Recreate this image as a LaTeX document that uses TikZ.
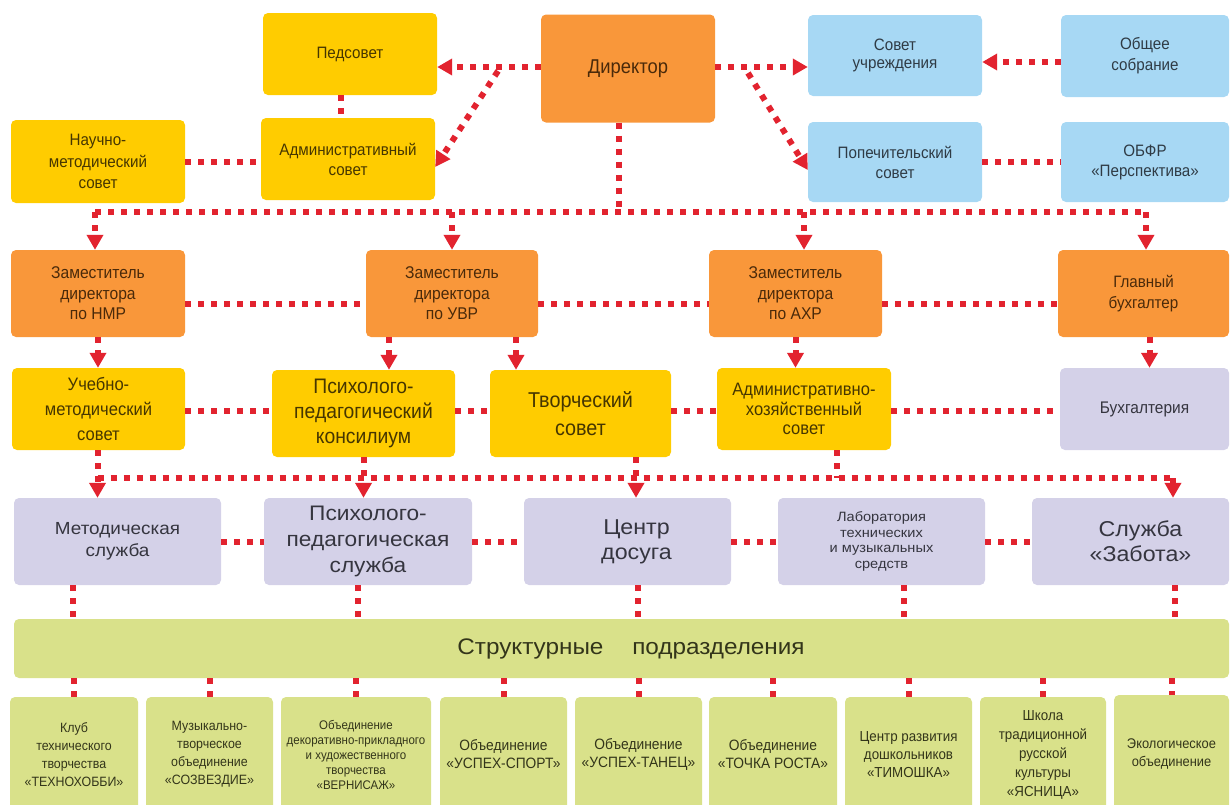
\documentclass[tikz,border=0pt]{standalone}
\usepackage{fontspec}
\setmainfont[FakeStretch=0.92]{Liberation Sans}
\newfontfamily\wf[FakeStretch=1.08]{Liberation Sans}
\usetikzlibrary{arrows.meta}
\definecolor{cy}{HTML}{FFCC00}
\definecolor{co}{HTML}{F9973A}
\definecolor{cb}{HTML}{A7D8F4}
\definecolor{cl}{HTML}{D4D1E8}
\definecolor{cg}{HTML}{D9E18A}
\definecolor{cr}{HTML}{E2232F}
\definecolor{ty}{HTML}{463600}
\definecolor{to}{HTML}{4A2A0A}
\definecolor{tb}{HTML}{2F3B45}
\definecolor{tl}{HTML}{35353F}
\definecolor{tg}{HTML}{33351A}
\begin{document}
\begin{tikzpicture}[x=1pt,y=-1pt,
  bx/.style={rounded corners=5pt, inner sep=1pt, align=center},
  ybox/.style={bx, fill=cy, text=ty},
  obox/.style={bx, fill=co, text=to},
  bluebox/.style={bx, fill=cb, text=tb},
  lbox/.style={bx, fill=cl, text=tl},
  gbox/.style={bx, fill=cg, text=tg},
  wh/.style 2 args={minimum width=#1pt, minimum height=#2pt},
  fs/.style 2 args={font=\fontsize{#1}{#2}\selectfont},
  wfs/.style 2 args={font=\wf\fontsize{#1}{#2}\selectfont},
  dl/.style={draw=cr, line width=6pt, dash pattern=on 6pt off 7pt},
  arr/.style={dl, -{Triangle[length=15pt,width=16pt]}}
]
\useasboundingbox (0,0) rectangle (1230,804);
% Row 1
\node[ybox, wh={174}{82}, fs={16.5}{20}] (ped) at (350,54) {Педсовет};
\node[obox, wh={174}{108}, fs={20}{24}] (dir) at (628,68.5) {Директор};
\node[bluebox, wh={174}{81}, fs={16.5}{18}] (sovu) at (895,55.5) {Совет\\учреждения};
\node[bluebox, wh={168}{82}, fs={16.5}{21}] (obsh) at (1145,56) {Общее\\собрание};
% Row 2
\node[ybox, wh={174}{83}, fs={16.5}{21.5}] (nms) at (98,161.5) {Научно-\\методический\\совет};
\node[ybox, wh={174}{82}, fs={16.5}{20}] (adm) at (348,159) {Административный\\совет};
\node[bluebox, wh={174}{80}, fs={16.5}{20}] (pop) at (895,162) {Попечительский\\совет};
\node[bluebox, wh={168}{80}, fs={16.5}{20}] (obfr) at (1145,162) {ОБФР\\«Перспектива»};
% Row 3
\node[obox, wh={174}{87}, fs={17}{20.5}] (zn) at (98,293.5) {Заместитель\\директора\\по НМР};
\node[obox, wh={172}{87}, fs={17}{20.5}] (zu) at (452,293.5) {Заместитель\\директора\\по УВР};
\node[obox, wh={173}{87}, fs={17}{20.5}] (za) at (795.5,293.5) {Заместитель\\директора\\по АХР};
\node[obox, wh={171}{87}, fs={16.5}{21}] (gb) at (1143.5,293.5) {Главный\\бухгалтер};
% Row 4
\node[ybox, wh={173}{82}, fs={18}{25}] (ums) at (98.5,409) {Учебно-\\методический\\совет};
\node[ybox, wh={183}{87}, fs={21}{25}] (ppk) at (363.5,413.5) {Психолого-\\педагогический\\консилиум};
\node[ybox, wh={181}{87}, fs={21.5}{28}] (tvs) at (580.5,413.5) {Творческий\\совет};
\node[ybox, wh={174}{82}, fs={18}{19.5}] (ahs) at (804,409) {Административно-\\хозяйственный\\совет};
\node[lbox, wh={169}{82}, fs={16.8}{20}] (buh) at (1144.5,409) {Бухгалтерия};
% Row 5
\node[lbox, wh={207}{87}, wfs={17.5}{22.5}] (ms) at (117.5,541.5) {Методическая\\служба};
\node[lbox, wh={208}{87}, wfs={21}{26}] (pps) at (368,541.5) {Психолого-\\педагогическая\\служба};
\node[lbox, wh={207}{87}, wfs={21.5}{25}] (cd) at (627.5,541.5) {\hspace*{18pt}Центр\\\hspace*{18pt}досуга};
\node[lbox, wh={207}{87}, wfs={13.5}{15.5}] (lab) at (881.5,541.5) {Лаборатория\\технических\\и музыкальных\\средств};
\node[lbox, wh={197}{87}, wfs={21.5}{25}] (sz) at (1130.5,541.5) {\hspace*{20pt}Служба\\\hspace*{20pt}«Забота»};
% Band
\node[gbox, wh={1215}{59}, wfs={22.5}{26}] (band) at (621.5,648.5) {\hspace*{19pt}Структурные\hspace{22pt} подразделения};
% Bottom row
\node[gbox, wh={128}{115}, fs={13.5}{18}] (b1) at (74,754.5) {Клуб\\технического\\творчества\\«ТЕХНОХОББИ»};
\node[gbox, wh={127}{115}, fs={13.5}{18}] (b2) at (209.5,754.5) {Музыкально-\\творческое\\объединение\\«СОЗВЕЗДИЕ»};
\node[gbox, wh={150}{115}, fs={12.5}{15}] (b3) at (356,754.5) {Объединение\\декоративно-прикладного\\и художественного\\творчества\\«ВЕРНИСАЖ»};
\node[gbox, wh={127}{115}, fs={15}{18}] (b4) at (503.5,754.5) {Объединение\\«УСПЕХ-СПОРТ»};
\node[gbox, wh={127}{115}, fs={15}{18}] (b5) at (638.5,754.5) {Объединение\\«УСПЕХ-ТАНЕЦ»};
\node[gbox, wh={128}{115}, fs={15}{18}] (b6) at (773,754.5) {Объединение\\«ТОЧКА РОСТА»};
\node[gbox, wh={127}{115}, fs={14.5}{18}] (b7) at (908.5,754.5) {Центр развития\\дошкольников\\«ТИМОШКА»};
\node[gbox, wh={126}{115}, fs={14.5}{19}] (b8) at (1043,754.5) {Школа\\традиционной\\русской\\культуры\\«ЯСНИЦА»};
\node[gbox, wh={115}{117}, fs={14}{18}] (b9) at (1171.5,753.5) {Экологическое\\объединение};
% Coordinates
\coordinate (hl) at (0,212);
\coordinate (r4) at (0,411);
\coordinate (r45) at (0,478);
\coordinate (d1) at (498,71);
\coordinate (d2) at (748,73);
% Row 1-2 connectors
\draw[arr] ([yshift=1.5pt]dir.west) -- ([yshift=1.5pt]dir.west -| ped.east);
\draw[arr] ([yshift=1.5pt]dir.east) -- ([yshift=1.5pt]dir.east -| sovu.west);
\draw[arr] ([yshift=-6pt]obsh.west) -- ([yshift=-6pt]obsh.west -| sovu.east);
\draw[arr] (d1) -- ([yshift=-8pt]adm.east);
\draw[arr] (d2) -- ([yshift=-8pt]pop.west);
\draw[dl] ([xshift=-9pt]ped.south) -- ([xshift=-9pt]ped.south |- adm.north);
\draw[dl] (nms.east) -- (nms.east -| adm.west);
\draw[dl] (pop.east) -- (obfr.west);
% Director to deputies
\draw[dl] ([xshift=-9pt]dir.south) -- ([xshift=-9pt]dir.south |- hl);
\draw[dl] ([xshift=-3pt]zn.north |- hl) -- ([xshift=2.5pt]gb.north |- hl);
\draw[arr] ([xshift=-3pt]zn.north |- hl) -- ([xshift=-3pt]zn.north);
\draw[arr] (zu.north |- hl) -- (zu.north);
\draw[arr] ([xshift=8.5pt]za.north |- hl) -- ([xshift=8.5pt]za.north);
\draw[arr] ([xshift=2.5pt]gb.north |- hl) -- ([xshift=2.5pt]gb.north);
% Row 3 links
\draw[dl] ([yshift=-10pt]zn.east) -- ([yshift=-10pt]zn.east -| zu.west);
\draw[dl] ([yshift=-10pt]zu.east) -- ([yshift=-10pt]zu.east -| za.west);
\draw[dl] ([yshift=-10pt]za.east) -- ([yshift=-10pt]za.east -| gb.west);
% Row 3 to row 4
\draw[arr] (zn.south) -- (zn.south |- ums.north);
\draw[arr] ([xshift=-63pt]zu.south) -- ([xshift=-63pt]zu.south |- ppk.north);
\draw[arr] ([xshift=64pt]zu.south) -- ([xshift=64pt]zu.south |- tvs.north);
\draw[arr] (za.south) -- (za.south |- ahs.north);
\draw[arr] ([xshift=6pt]gb.south) -- ([xshift=6pt]gb.south |- buh.north);
% Row 4 links
\draw[dl] (ums.east |- r4) -- (ppk.west |- r4);
\draw[dl] (ppk.east |- r4) -- (tvs.west |- r4);
\draw[dl] (tvs.east |- r4) -- (ahs.west |- r4);
\draw[dl] (ahs.east |- r4) -- (buh.west |- r4);
% Row 4 to row 5
\draw[dl] ([xshift=-1pt]ums.south |- r45) -- ([xshift=42.5pt]sz.north |- r45);
\draw[arr] ([xshift=-1pt]ums.south) -- ([xshift=-1pt]ums.south |- ms.north);
\draw[arr] (ppk.south) -- (ppk.south |- pps.north);
\draw[arr] ([xshift=55.5pt]tvs.south) -- ([xshift=55.5pt]tvs.south |- cd.north);
\draw[dl] ([xshift=33pt]ahs.south) -- ([xshift=33pt]ahs.south |- r45);
\draw[arr] ([xshift=42.5pt]sz.north |- r45) -- ([xshift=42.5pt]sz.north);
% Row 5 links
\draw[dl] (ms.east) -- (pps.west);
\draw[dl] (pps.east) -- (cd.west);
\draw[dl] (cd.east) -- (lab.west);
\draw[dl] (lab.east) -- (sz.west);
% Row 5 to band
\draw[dl] ([xshift=-44.5pt]ms.south) -- ([xshift=-44.5pt]ms.south |- band.north);
\draw[dl] ([xshift=-10pt]pps.south) -- ([xshift=-10pt]pps.south |- band.north);
\draw[dl] ([xshift=10.5pt]cd.south) -- ([xshift=10.5pt]cd.south |- band.north);
\draw[dl] ([xshift=22.5pt]lab.south) -- ([xshift=22.5pt]lab.south |- band.north);
\draw[dl] ([xshift=44.5pt]sz.south) -- ([xshift=44.5pt]sz.south |- band.north);
% Band to units
\foreach \b in {b1,b2,b3,b4,b5,b6,b7,b8,b9}
  \draw[dl] (\b.north |- band.south) -- (\b.north);
\end{tikzpicture}
\end{document}
